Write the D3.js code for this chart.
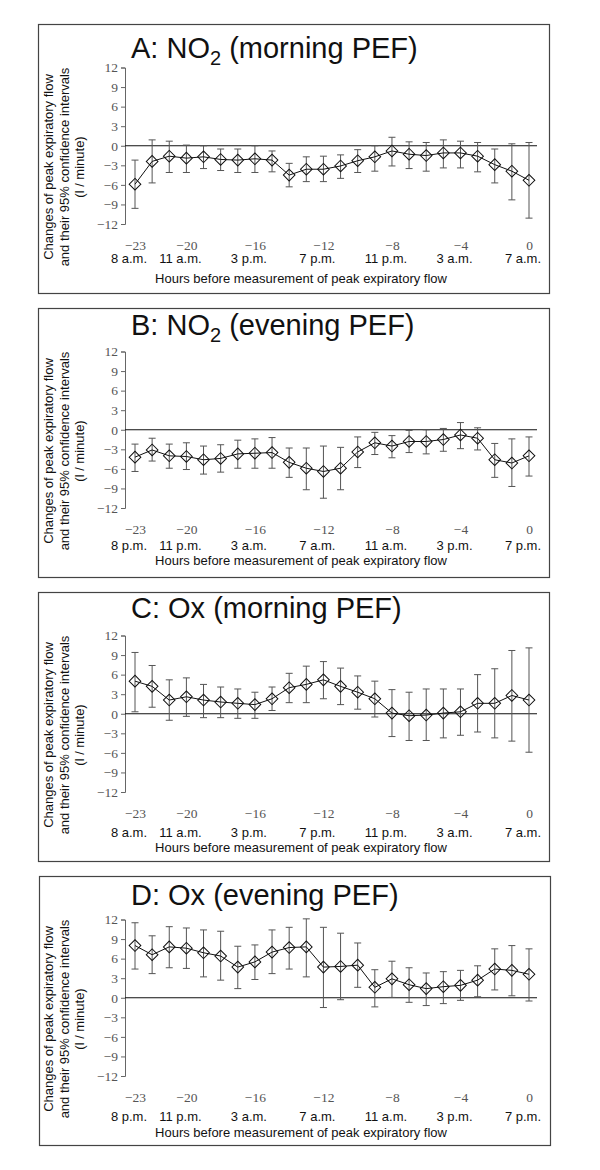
<!DOCTYPE html>
<html>
<head>
<meta charset="utf-8">
<script src="https://cdn.jsdelivr.net/npm/d3@7"></script>
<style>
  body { margin: 0; background: #fff; }
  svg { display: block; }
  .tick text { font-family: "Liberation Serif", "DejaVu Serif", serif; fill: #555; }
  .lab { font-family: "Liberation Sans", Arial, sans-serif; fill: #111; }
</style>
</head>
<body>
<div class="graph"></div>
<script>
// hours before the PEF measurement
var hours = [-23, -22, -21, -20, -19, -18, -17, -16, -15, -14, -13, -12,
             -11, -10, -9, -8, -7, -6, -5, -4, -3, -2, -1, 0];

// A: NO2, morning PEF
var no2MorningEst = [-5.9, -2.4, -1.6, -1.9, -1.7, -2.1, -2.2, -2.0, -2.2, -4.5, -3.6, -3.6,
                     -3.1, -2.3, -1.7, -0.8, -1.3, -1.5, -1.1, -1.1, -1.6, -2.9, -3.9, -5.3];
var no2MorningLo  = [-9.6, -5.7, -4.1, -4.1, -3.5, -3.8, -4.1, -4.1, -4.0, -6.3, -5.5, -5.5,
                     -5.0, -4.1, -3.9, -3.1, -3.5, -3.9, -3.4, -3.4, -4.0, -5.7, -8.3, -11.1];
var no2MorningHi  = [-2.2, 0.9, 0.7, 0.1, 0.0, -0.5, -0.5, 0.0, -0.8, -2.7, -1.7, -1.6,
                     -1.4, -0.6, 0.0, 1.3, 0.6, 0.5, 0.9, 0.7, 0.5, -0.5, 0.3, 0.5];

// B: NO2, evening PEF
var no2EveningEst = [-4.2, -3.1, -4.0, -4.1, -4.6, -4.4, -3.7, -3.6, -3.5, -5.0, -5.9, -6.4,
                     -5.9, -3.4, -2.0, -2.5, -1.8, -1.8, -1.5, -0.8, -1.3, -4.6, -5.1, -4.0];
var no2EveningLo  = [-6.4, -4.8, -5.9, -6.1, -6.8, -6.5, -5.9, -5.9, -5.9, -7.3, -9.2, -10.5,
                     -9.2, -5.8, -3.8, -4.3, -3.5, -3.7, -3.3, -2.9, -3.1, -7.3, -8.7, -7.1];
var no2EveningHi  = [-2.2, -1.3, -2.2, -2.0, -2.5, -2.3, -1.6, -1.4, -1.2, -2.8, -2.8, -2.5,
                     -2.7, -1.1, -0.4, -0.9, -0.1, 0.0, 0.2, 1.1, 0.3, -2.1, -1.4, -1.1];

// C: Ox, morning PEF
var oxMorningEst = [5.0, 4.2, 2.1, 2.6, 2.1, 1.8, 1.6, 1.4, 2.3, 4.0, 4.5, 5.2,
                    4.2, 3.3, 2.3, 0.1, -0.3, -0.2, 0.1, 0.3, 1.6, 1.6, 2.8, 2.1];
var oxMorningLo  = [0.3, 1.0, -1.0, -0.4, -0.6, -0.6, -0.7, -0.7, 0.5, 1.7, 1.7, 2.3,
                    1.4, 0.7, -0.5, -3.5, -4.1, -4.1, -3.7, -3.3, -2.8, -3.7, -4.2, -5.9];
var oxMorningHi  = [9.4, 7.4, 5.2, 5.5, 4.5, 4.1, 3.8, 3.3, 4.1, 6.2, 7.3, 8.0,
                    7.0, 5.8, 5.0, 3.7, 3.3, 3.8, 3.8, 3.8, 6.0, 6.9, 9.7, 10.1];

// D: Ox, evening PEF
var oxEveningEst = [8.0, 6.6, 7.8, 7.6, 6.9, 6.4, 4.7, 5.5, 7.0, 7.7, 7.8, 4.7,
                    4.8, 5.0, 1.6, 2.9, 2.0, 1.4, 1.7, 1.9, 2.7, 4.4, 4.2, 3.6];
var oxEveningLo  = [4.4, 3.7, 4.6, 4.5, 3.2, 2.7, 1.4, 2.8, 3.7, 4.4, 3.2, -1.5,
                    -0.3, 1.6, -1.4, 0.05, -0.7, -1.2, -0.9, -0.4, 0.15, 1.2, 0.3, -0.5];
var oxEveningHi  = [11.5, 9.5, 10.9, 10.7, 10.4, 10.2, 7.9, 8.1, 10.4, 10.8, 12.1, 10.8,
                    9.9, 8.4, 4.3, 5.6, 4.6, 3.8, 4.0, 4.2, 4.9, 7.5, 8.0, 7.5];

// tick labels
var yTicks = [12, 9, 6, 3, 0, -3, -6, -9, -12];
var xTickHours = [-23, -20, -16, -12, -8, -4, 0];
var morningTimes = ['8 a.m.', '11 a.m.', '3 p.m.', '7 p.m.', '11 p.m.', '3 a.m.', '7 a.m.'];
var eveningTimes = ['8 p.m.', '11 p.m.', '3 a.m.', '7 a.m.', '11 a.m.', '3 p.m.', '7 p.m.'];

var panels = [
  { letter: 'A', gas: 'NO', sub: '2', pef: 'morning PEF', times: morningTimes,
    est: no2MorningEst, lo: no2MorningLo, hi: no2MorningHi },
  { letter: 'B', gas: 'NO', sub: '2', pef: 'evening PEF', times: eveningTimes,
    est: no2EveningEst, lo: no2EveningLo, hi: no2EveningHi },
  { letter: 'C', gas: 'Ox', sub: '', pef: 'morning PEF', times: morningTimes,
    est: oxMorningEst, lo: oxMorningLo, hi: oxMorningHi },
  { letter: 'D', gas: 'Ox', sub: '', pef: 'evening PEF', times: eveningTimes,
    est: oxEveningEst, lo: oxEveningLo, hi: oxEveningHi }
];

// where each panel box sits, and a few per-panel text offsets
var layout = [
  { left: 38, top: 24,  titleY: 34, timeY: 239, xTitleY: 259 },
  { left: 38, top: 308, titleY: 27, timeY: 242, xTitleY: 257 },
  { left: 38, top: 592, titleY: 26, timeY: 245, xTitleY: 260 },
  { left: 39, top: 876, titleY: 29, timeY: 245, xTitleY: 261 }
];

var x = d3.scaleLinear().domain([-23, 0]).range([135, 529]);
var y = d3.scaleLinear().domain([-12, 12]).range([200, 43.5]);

var svg = d3.select('.graph')
  .append('svg')
  .attr('width', 600)
  .attr('height', 1170);

panels.forEach(function (p, k) {
  var L = layout[k];
  var g = svg.append('g')
    .attr('transform', 'translate(0,' + L.top + ')');

  // panel frame
  g.append('rect')
    .attr('x', L.left + 0.5)
    .attr('y', 0.5)
    .attr('width', 511)
    .attr('height', 269)
    .attr('fill', 'none')
    .attr('stroke', '#444')
    .attr('stroke-width', 1.2);

  // title with subscript
  var t = g.append('text')
    .attr('class', 'lab')
    .attr('x', 131)
    .attr('y', L.titleY)
    .attr('font-size', 29);
  t.append('tspan').text(p.letter + ': ' + p.gas);
  if (p.sub) {
    t.append('tspan').attr('font-size', 20).attr('dy', 7).text(p.sub);
    t.append('tspan').attr('dy', -7).text(' (' + p.pef + ')');
  } else {
    t.append('tspan').text(' (' + p.pef + ')');
  }

  // y axis
  var yAxis = g.append('g')
    .attr('transform', 'translate(125,0)')
    .call(d3.axisLeft(y).tickValues(yTicks).tickSize(4).tickFormat(d3.format('d')));
  yAxis.selectAll('path, line').attr('stroke', '#666');
  yAxis.selectAll('text').attr('font-size', 13.5);

  // zero line
  g.append('line')
    .attr('x1', 125).attr('x2', 537)
    .attr('y1', y(0)).attr('y2', y(0))
    .attr('stroke', '#111')
    .attr('stroke-width', 1);

  // hour ticks
  var xAxis = g.append('g')
    .attr('transform', 'translate(0,213)')
    .call(d3.axisBottom(x).tickValues(xTickHours).tickSize(0).tickFormat(d3.format('d')));
  xAxis.select('.domain').remove();
  xAxis.selectAll('text').attr('font-size', 13.5);

  // clock times
  g.append('g')
    .selectAll('text')
    .data(xTickHours)
    .enter()
    .append('text')
    .attr('class', 'lab')
    .attr('x', function (d) { return x(d) - 6; })
    .attr('y', L.timeY)
    .attr('text-anchor', 'middle')
    .attr('font-size', 13)
    .text(function (d, i) { return p.times[i]; });

  g.append('text')
    .attr('class', 'lab')
    .attr('x', 301)
    .attr('y', L.xTitleY)
    .attr('text-anchor', 'middle')
    .attr('font-size', 13)
    .text('Hours before measurement of peak expiratory flow');

  // y axis title, three lines
  var yl = g.append('text')
    .attr('class', 'lab')
    .attr('transform', 'translate(0,143) rotate(-90)')
    .attr('text-anchor', 'middle')
    .attr('font-size', 13);
  ['Changes of peak expiratory flow', 'and their 95% confidence intervals', '(l / minute)']
    .forEach(function (s, i) {
      yl.append('tspan').attr('x', 0).attr('y', 53 + i * 15.5).text(s);
    });

  var pts = hours.map(function (h, i) {
    return { h: h, est: p.est[i], lo: p.lo[i], hi: p.hi[i] };
  });

  // confidence intervals
  var bars = g.append('g')
    .attr('stroke', '#555')
    .attr('stroke-width', 1)
    .selectAll('g')
    .data(pts)
    .enter()
    .append('g');
  bars.append('line')
    .attr('x1', function (d) { return x(d.h); })
    .attr('x2', function (d) { return x(d.h); })
    .attr('y1', function (d) { return y(d.lo); })
    .attr('y2', function (d) { return y(d.hi); });
  bars.append('line')
    .attr('x1', function (d) { return x(d.h) - 3.5; })
    .attr('x2', function (d) { return x(d.h) + 3.5; })
    .attr('y1', function (d) { return y(d.hi); })
    .attr('y2', function (d) { return y(d.hi); });
  bars.append('line')
    .attr('x1', function (d) { return x(d.h) - 3.5; })
    .attr('x2', function (d) { return x(d.h) + 3.5; })
    .attr('y1', function (d) { return y(d.lo); })
    .attr('y2', function (d) { return y(d.lo); });

  // estimates
  var line = d3.line()
    .x(function (d) { return x(d.h); })
    .y(function (d) { return y(d.est); });
  g.append('path')
    .datum(pts)
    .attr('d', line)
    .attr('fill', 'none')
    .attr('stroke', '#111')
    .attr('stroke-width', 1);

  g.append('g')
    .selectAll('path')
    .data(pts)
    .enter()
    .append('path')
    .attr('d', d3.symbol(d3.symbolSquare, 68))
    .attr('transform', function (d) {
      return 'translate(' + x(d.h) + ',' + y(d.est) + ') rotate(45)';
    })
    .attr('fill', 'none')
    .attr('stroke', '#111')
    .attr('stroke-width', 1);
});
</script>
</body>
</html>
